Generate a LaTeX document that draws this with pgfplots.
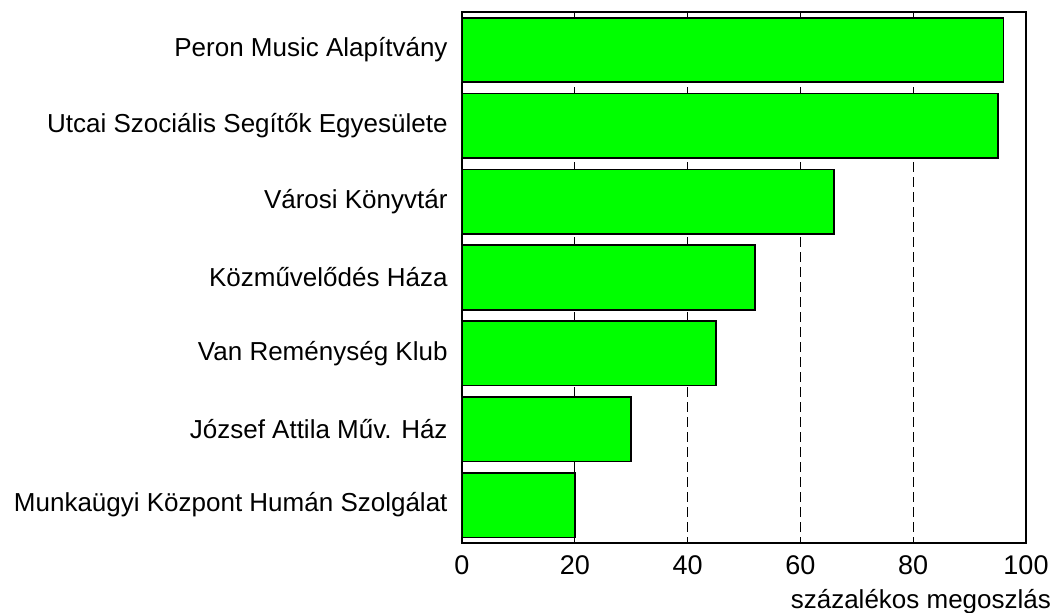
\documentclass[border=0pt]{standalone}
\usepackage{fontspec}
\setmainfont{Liberation Sans}
\usepackage{pgfplots}
\pgfplotsset{compat=1.18}
\definecolor{barGreen}{RGB}{0,255,0}
\begin{document}
\fontsize{13}{15.6}\selectfont
\begin{tikzpicture}
\begin{axis}[
  scale only axis,
  width=282pt, height=265.5pt,
  xbar, bar width=0.85,
  xmin=0, xmax=100,
  ymin=-0.5, ymax=6.5,
  y dir=reverse,
  ytick={0,1,2,3,4,5,6},
  yticklabels={Peron Music Alapítvány, Utcai Szociális Segítők Egyesülete, Városi Könyvtár, Közművelődés Háza, Van Reménység Klub, József Attila Műv. Ház, Munkaügyi Központ Humán Szolgálat},
  xtick={0,20,40,60,80,100},
  major tick length=0pt,
  xmajorgrids=true,
  grid style={black, line width=0.5pt, dash pattern=on 5pt off 2.5pt},
  axis line style={black, line width=0.9pt},
  /pgf/number format/assume math mode=true,
  tick label style={font=\fontsize{13.5}{16}\selectfont},
  yticklabel style={font=\fontsize{13}{15.6}\selectfont, xshift=-2.7pt},
  xticklabel style={yshift=-2pt},
  xlabel={százalékos megoszlás},
  xlabel style={font=\fontsize{13}{15.6}\selectfont, at={(rel axis cs:1,0)}, anchor=east, xshift=17pt, yshift=-29.5pt},
]
\addplot[fill=barGreen, draw=black, line width=0.8pt] coordinates {
  (96,0) (95,1) (66,2) (52,3) (45,4) (30,5) (20,6)
};
\end{axis}
\pgfresetboundingbox
\path (-231pt,-34.5pt) rectangle (295.5pt,271.5pt);
\end{tikzpicture}
\end{document}
